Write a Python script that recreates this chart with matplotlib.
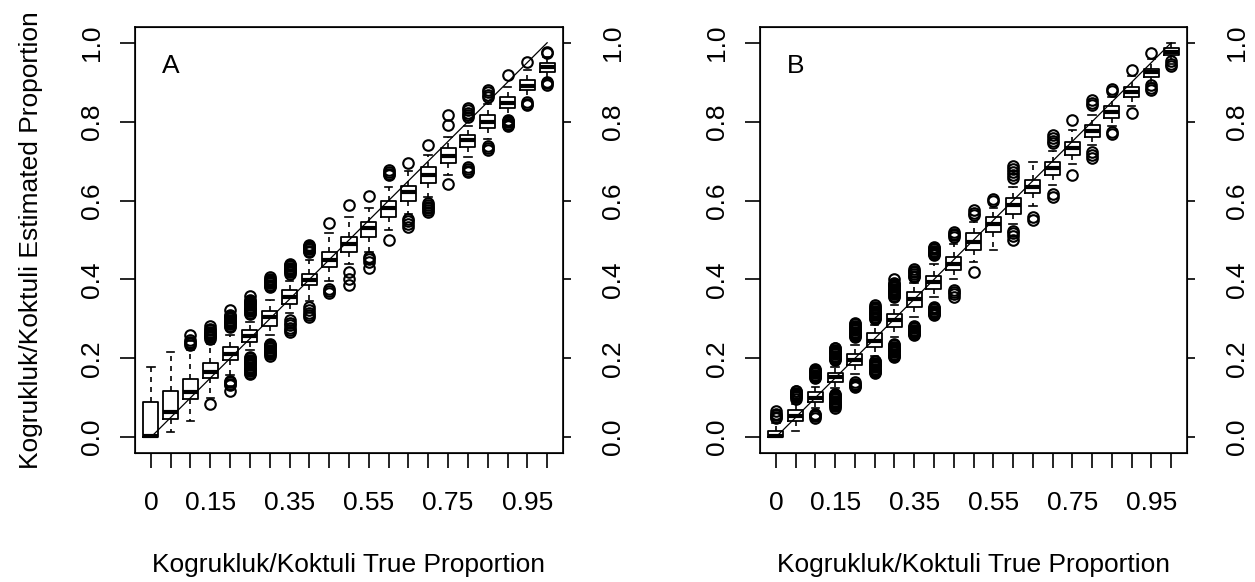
import matplotlib
matplotlib.use("Agg")
import matplotlib.pyplot as plt

plt.rcParams['font.family'] = ['Liberation Sans', 'DejaVu Sans']

# Step 1: data
true_prop = [0.0, 0.05, 0.10, 0.15, 0.20, 0.25, 0.30, 0.35, 0.40, 0.45, 0.50,
             0.55, 0.60, 0.65, 0.70, 0.75, 0.80, 0.85, 0.90, 0.95, 1.0]
x_tick_labels = ['0', '', '', '0.15', '', '', '', '0.35', '', '', '',
                 '0.55', '', '', '', '0.75', '', '', '', '0.95', '']
y_ticks = [0.0, 0.2, 0.4, 0.6, 0.8, 1.0]
y_tick_labels = ['0.0', '0.2', '0.4', '0.6', '0.8', '1.0']

# panel A
a_q1 = [0.0, 0.047, 0.097, 0.149, 0.195, 0.241, 0.283, 0.339, 0.385, 0.431, 0.47,
        0.508, 0.558, 0.60, 0.644, 0.694, 0.736, 0.783, 0.834, 0.88, 0.926]
a_med = [0.004, 0.063, 0.114, 0.165, 0.212, 0.256, 0.306, 0.355, 0.398, 0.45, 0.489,
         0.53, 0.58, 0.622, 0.664, 0.712, 0.753, 0.80, 0.848, 0.891, 0.938]
a_q3 = [0.089, 0.118, 0.148, 0.187, 0.228, 0.271, 0.321, 0.372, 0.415, 0.47, 0.508,
        0.546, 0.60, 0.638, 0.684, 0.732, 0.765, 0.816, 0.863, 0.905, 0.948]
a_lo = [0.0, 0.013, 0.041, 0.10, 0.157, 0.22, 0.258, 0.314, 0.345, 0.395, 0.44,
        0.47, 0.525, 0.565, 0.61, 0.665, 0.71, 0.755, 0.81, 0.855, 0.905]
a_hi = [0.179, 0.216, 0.222, 0.237, 0.258, 0.292, 0.347, 0.395, 0.45, 0.517, 0.558,
        0.58, 0.635, 0.675, 0.715, 0.76, 0.79, 0.845, 0.888, 0.93, 0.965]
a_out = [
    [],
    [],
    [0.234, 0.238, 0.242, 0.246, 0.258],
    [0.085, 0.25, 0.253, 0.256, 0.259, 0.262, 0.265, 0.268, 0.271, 0.274, 0.283],
    [0.118, 0.133, 0.136, 0.139, 0.142,
     0.28, 0.283, 0.286, 0.289, 0.292, 0.295, 0.298, 0.301, 0.304, 0.307, 0.31, 0.322],
    [0.161, 0.164, 0.167, 0.17, 0.173, 0.176, 0.179, 0.182, 0.185, 0.188, 0.191,
     0.194, 0.197, 0.2, 0.203,
     0.313, 0.316, 0.319, 0.322, 0.325, 0.328, 0.331, 0.334, 0.337, 0.34, 0.343,
     0.346, 0.349, 0.358],
    [0.207, 0.21, 0.213, 0.216, 0.219, 0.222, 0.225, 0.228, 0.231, 0.234, 0.237,
     0.381, 0.384, 0.387, 0.39, 0.393, 0.396, 0.399, 0.402, 0.406],
    [0.266, 0.272, 0.278, 0.284, 0.29, 0.296,
     0.415, 0.418, 0.421, 0.424, 0.427, 0.43, 0.433, 0.436, 0.44],
    [0.305, 0.31, 0.315, 0.322, 0.33,
     0.47, 0.473, 0.476, 0.479, 0.482, 0.485, 0.488],
    [0.365, 0.37, 0.375, 0.542],
    [0.385, 0.402, 0.42, 0.588],
    [0.428, 0.445, 0.452, 0.457, 0.612],
    [0.50, 0.664, 0.668, 0.672, 0.677],
    [0.533, 0.54, 0.547, 0.554, 0.694],
    [0.572, 0.576, 0.58, 0.584, 0.588, 0.593, 0.742],
    [0.642, 0.791, 0.817],
    [0.672, 0.676, 0.68, 0.685, 0.813, 0.818, 0.823, 0.829, 0.834],
    [0.728, 0.733, 0.738, 0.863, 0.868, 0.874, 0.88],
    [0.789, 0.792, 0.795, 0.798, 0.801, 0.804, 0.918],
    [0.843, 0.846, 0.849, 0.952],
    [0.893, 0.897, 0.9, 0.973, 0.977],
]

# panel B
b_q1 = [0.0, 0.042, 0.089, 0.14, 0.182, 0.228, 0.279, 0.33, 0.377, 0.423, 0.474,
        0.52, 0.567, 0.618, 0.664, 0.715, 0.762, 0.809, 0.863, 0.913, 0.968]
b_med = [0.003, 0.055, 0.10, 0.152, 0.197, 0.245, 0.296, 0.35, 0.393, 0.44, 0.495,
         0.54, 0.588, 0.635, 0.682, 0.733, 0.776, 0.825, 0.876, 0.925, 0.977]
b_q3 = [0.017, 0.068, 0.114, 0.162, 0.212, 0.263, 0.313, 0.368, 0.41, 0.457, 0.517,
        0.558, 0.607, 0.652, 0.698, 0.749, 0.791, 0.839, 0.888, 0.934, 0.986]
b_lo = [0.0, 0.017, 0.075, 0.125, 0.16, 0.205, 0.255, 0.305, 0.355, 0.40, 0.445,
        0.474, 0.54, 0.585, 0.64, 0.693, 0.742, 0.79, 0.84, 0.898, 0.945]
b_hi = [0.035, 0.085, 0.128, 0.178, 0.235, 0.285, 0.335, 0.39, 0.44, 0.49, 0.545,
        0.58, 0.635, 0.698, 0.725, 0.78, 0.818, 0.862, 0.915, 0.958, 0.999]
b_out = [
    [0.048, 0.052, 0.056, 0.06, 0.066],
    [0.098, 0.101, 0.104, 0.107, 0.11, 0.113, 0.116, 0.118],
    [0.05, 0.053, 0.056, 0.06,
     0.15, 0.153, 0.156, 0.159, 0.162, 0.165, 0.168, 0.171, 0.174],
    [0.075, 0.078, 0.081, 0.084, 0.087, 0.09, 0.093, 0.096, 0.099, 0.102, 0.105,
     0.108, 0.11,
     0.195, 0.198, 0.201, 0.204, 0.207, 0.21, 0.213, 0.216, 0.219, 0.222, 0.225, 0.227],
    [0.127, 0.13, 0.133, 0.136, 0.139,
     0.253, 0.256, 0.259, 0.262, 0.265, 0.268, 0.271, 0.274, 0.277, 0.28, 0.283,
     0.286, 0.29],
    [0.162, 0.165, 0.168, 0.171, 0.174, 0.177, 0.18, 0.183, 0.186, 0.189, 0.192, 0.194,
     0.30, 0.303, 0.306, 0.309, 0.312, 0.315, 0.318, 0.321, 0.324, 0.327, 0.33, 0.334],
    [0.203, 0.206, 0.209, 0.212, 0.215, 0.218, 0.221, 0.224, 0.227, 0.23, 0.233, 0.237,
     0.356, 0.359, 0.362, 0.365, 0.368, 0.371, 0.374, 0.377, 0.38, 0.383, 0.386,
     0.389, 0.392, 0.402],
    [0.258, 0.261, 0.264, 0.267, 0.27, 0.273, 0.276, 0.279, 0.283,
     0.406, 0.41, 0.414, 0.418, 0.422, 0.427],
    [0.309, 0.312, 0.315, 0.318, 0.321, 0.324, 0.327, 0.33,
     0.461, 0.464, 0.467, 0.47, 0.473, 0.476, 0.479, 0.482],
    [0.356, 0.362, 0.368, 0.372, 0.508, 0.512, 0.516, 0.52],
    [0.42, 0.563, 0.569, 0.575],
    [0.60, 0.605],
    [0.50, 0.51, 0.518, 0.524, 0.657, 0.665, 0.672, 0.68, 0.687],
    [0.55, 0.558],
    [0.61, 0.617, 0.746, 0.752, 0.758, 0.765],
    [0.665, 0.804],
    [0.707, 0.715, 0.723, 0.842, 0.848, 0.854],
    [0.77, 0.775, 0.877, 0.882],
    [0.823, 0.93],
    [0.88, 0.886, 0.892, 0.973],
    [0.94, 0.947, 0.955],
]

panels = [
    ('A', a_q1, a_med, a_q3, a_lo, a_hi, a_out),
    ('B', b_q1, b_med, b_q3, b_lo, b_hi, b_out),
]

# Step 2: figure and axes placed like the original
fig = plt.figure(figsize=(12.55, 5.82), dpi=100)
ax_a = fig.add_axes([135 / 1255, 129 / 582, 428 / 1255, 426 / 582])
ax_b = fig.add_axes([760 / 1255, 129 / 582, 427 / 1255, 426 / 582])

FS = 19

for ax, (letter, q1, med, q3, lo, hi, out) in zip([ax_a, ax_b], panels):
    stats = []
    for i in range(len(true_prop)):
        stats.append({'q1': q1[i], 'med': med[i], 'q3': q3[i],
                      'whislo': lo[i], 'whishi': hi[i], 'fliers': out[i]})
    ax.bxp(stats, positions=true_prop, widths=0.038, capwidths=0.019,
           manage_ticks=False,
           boxprops=dict(color='black', linewidth=1.3),
           medianprops=dict(color='black', linewidth=3.0, solid_capstyle='butt'),
           whiskerprops=dict(color='black', linewidth=1.2, linestyle=(0, (3, 3))),
           capprops=dict(color='black', linewidth=1.2),
           flierprops=dict(marker='o', markerfacecolor='none', markeredgecolor='black',
                           markersize=7.6, markeredgewidth=1.5))

    # 1:1 reference line
    ax.plot([0, 1], [0, 1], color='black', linewidth=0.9)

    ax.set_xlim(-0.04, 1.04)
    ax.set_ylim(-0.04, 1.04)
    for sp in ax.spines.values():
        sp.set_linewidth(1.2)

    ax.set_xticks(true_prop)
    ax.set_xticklabels(x_tick_labels, fontsize=FS)
    ax.set_yticks(y_ticks)
    ax.set_yticklabels(y_tick_labels, fontsize=FS, rotation=90, va='center')
    ax.tick_params(axis='both', direction='out', length=11, width=1.2, pad=11)
    ax.tick_params(axis='x', pad=16)

    # right-hand axis with shorter ticks
    ax_r = ax.twinx()
    ax_r.set_ylim(-0.04, 1.04)
    ax_r.set_yticks(y_ticks)
    ax_r.set_yticklabels(y_tick_labels, fontsize=FS, rotation=90, va='center')
    ax_r.tick_params(axis='y', direction='out', length=5.5, width=1.2, pad=22)

    ax.text(0.05, 0.94, letter, fontsize=FS, ha='center', va='center')
    ax.set_xlabel('Kogrukluk/Koktuli True Proportion', fontsize=FS, labelpad=28)

ax_a.set_ylabel('Kogrukluk/Koktuli Estimated Proportion', fontsize=FS, labelpad=27)

fig.savefig('out.png', dpi=100, facecolor='white')
